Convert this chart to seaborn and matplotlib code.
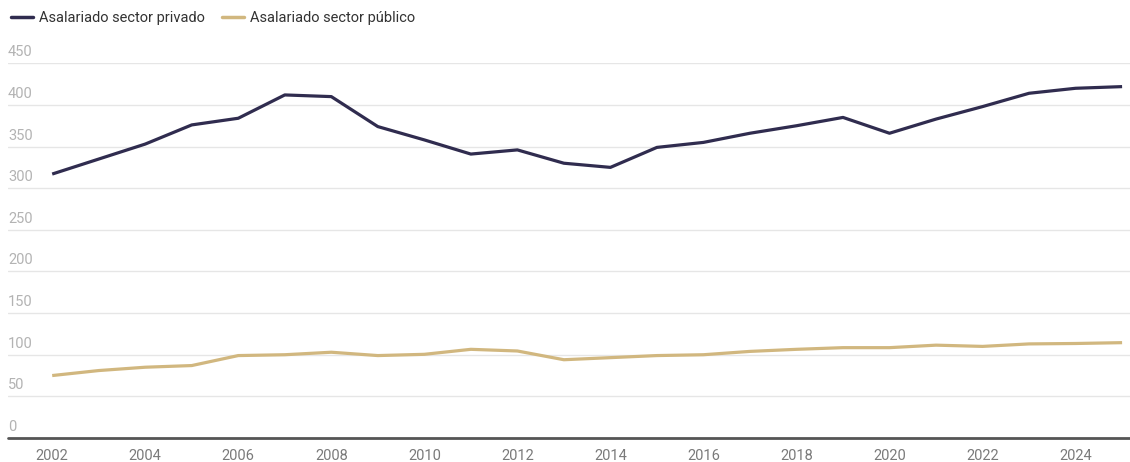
import matplotlib
matplotlib.use("Agg")
import matplotlib.pyplot as plt
import matplotlib.transforms as mtransforms
from matplotlib.lines import Line2D
import numpy as np
import pandas as pd
import seaborn as sns

years = list(range(2002, 2026))
privado = [317, 335, 353, 376, 384, 412, 410, 374, 358, 341, 346, 330, 325,
           349, 355, 366, 375, 385, 366, 383, 398, 414, 420, 422]
publico = [75, 81, 85, 87, 99, 100, 103, 99, 100.5, 106.5, 104.5, 94, 96.5,
           99, 100, 104, 106.5, 108.5, 108.5, 111.5, 110, 113, 113.5, 114.5]
series_names = ["Asalariado sector privado", "Asalariado sector público"]
colors = ["#302c4f", "#d1b77f"]
y_ticks = [0, 50, 100, 150, 200, 250, 300, 350, 400, 450]
x_ticks = list(range(2002, 2025, 2))

df = pd.DataFrame({
    "year": years * 2,
    "value": privado + publico,
    "serie": [series_names[0]] * len(years) + [series_names[1]] * len(years),
})

sns.set_theme(style="white")
plt.rcParams["font.family"] = ["Roboto", "DejaVu Sans"]

W, H = 1130, 462
fig = plt.figure(figsize=(W / 100, H / 100), dpi=100)
left, right = 8 / W, 1.0
top_px, bottom_px = 63.3, 438.0
ax = fig.add_axes([left, 1 - bottom_px / H, right - left, (bottom_px - top_px) / H])

sns.lineplot(data=df, x="year", y="value", hue="serie", palette=colors,
             linewidth=2.3, ax=ax, legend=False)
for ln in ax.lines:
    ln.set_solid_joinstyle("round")
    ln.set_solid_capstyle("butt")

ax.set_xlim(2001.05, 2025.17)
ax.set_ylim(0, 450)

# grid lines
for v in y_ticks[1:]:
    ax.axhline(v, color="#e6e6e6", linewidth=1.0, zorder=0)
ax.axhline(0, color="#555555", linewidth=2.0, zorder=3, clip_on=False)

ax.set_yticks([])
ax.set_xticks(x_ticks)
ax.set_xticklabels([str(x) for x in x_ticks], fontsize=10.5, color="#7a7a7a")
ax.tick_params(axis="x", length=0, pad=8)
ax.set_xlabel("")
ax.set_ylabel("")
for s in ax.spines.values():
    s.set_visible(False)

# y labels sit above their grid lines
trans = mtransforms.blended_transform_factory(ax.transAxes, ax.transData)
offset = mtransforms.ScaledTranslation(0, 4 / 100, fig.dpi_scale_trans)
for v in y_ticks:
    ax.text(0.0, v, str(v), transform=trans + offset, ha="left", va="bottom",
            fontsize=10.5, color="#b3b3b3")

# legend at the top
handles = [Line2D([0], [0], color=c, linewidth=2.5) for c in colors]
leg = fig.legend(handles, series_names, loc="upper left", bbox_to_anchor=(0.0, 1.0),
                 ncol=2, frameon=False, fontsize=10.5, handlelength=1.5,
                 handletextpad=0.4, columnspacing=1.2, borderaxespad=0.35)
for t in leg.get_texts():
    t.set_color("#333333")

fig.savefig("out.png", dpi=100)
